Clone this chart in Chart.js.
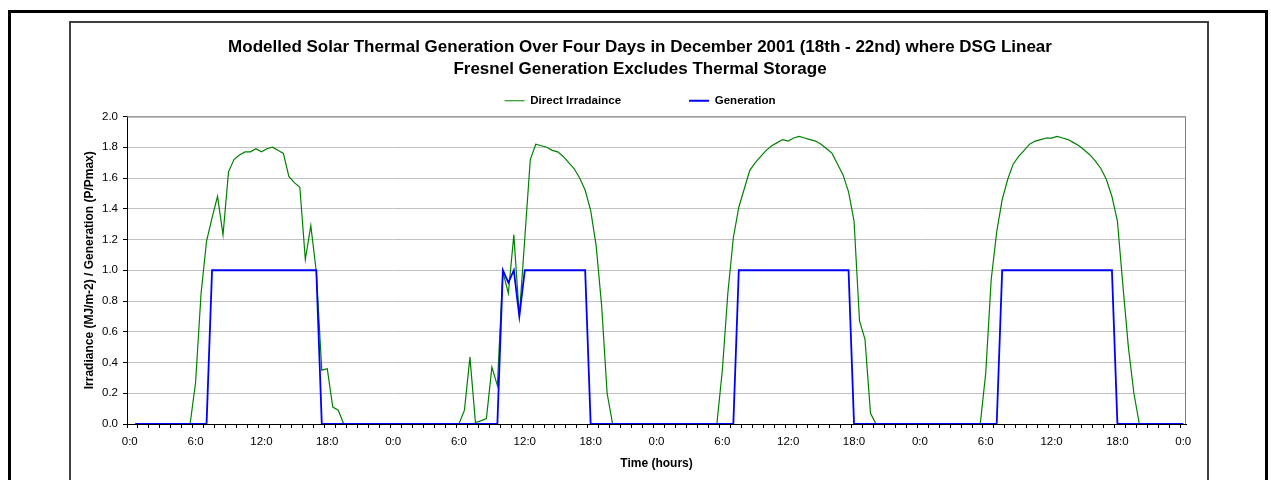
<!DOCTYPE html>
<html lang="en">
<head>
  <meta charset="UTF-8">
  <title>Solar Thermal Generation - December 2001</title>
  <style>
    body {
      margin: 0;
      background: #ffffff;
      font-family: 'Liberation Sans', Arial, sans-serif;
    }
    .sheet {
      position: absolute;
      left: 8px;
      top: 10px;
      width: 1254px;
      height: 520px;
      border: 3px solid #000000;
    }
    .frame {
      position: absolute;
      left: 69px;
      top: 21px;
      width: 1136px;
      height: 520px;
      border: 2px solid #404040;
    }
    #chart {
      position: absolute;
      left: 71px;
      top: 23px;
    }
  </style>
</head>
<body>
  <div class="sheet"></div>
  <div class="frame"></div>
  <canvas id="chart" width="1136" height="457"></canvas>

  <script src="https://cdn.jsdelivr.net/npm/chart.js"></script>
  <script>
    // half-hourly readings, 4 days (rows of 6 hours), last entry is midnight of the 5th day
    const irradiance = [
      null, 0, 0, 0, 0, 0, 0, 0, 0, 0, 0, 0,
      0.27, 0.85, 1.19, 1.34, 1.48, 1.23, 1.64, 1.72, 1.75, 1.77, 1.77, 1.79,
      1.77, 1.79, 1.80, 1.78, 1.76, 1.61, 1.57, 1.54, 1.07, 1.29, 0.99, 0.35,
      0.36, 0.11, 0.09, 0, 0, 0, 0, 0, 0, 0, 0, 0,

      0, 0, 0, 0, 0, 0, 0, 0, 0, 0, 0, 0,
      0, 0.09, 0.435, 0.01, 0.02, 0.035, 0.37, 0.25, 0.99, 0.85, 1.23, 0.70,
      1.21, 1.72, 1.82, 1.81, 1.80, 1.78, 1.77, 1.74, 1.70, 1.66, 1.60, 1.52,
      1.39, 1.16, 0.77, 0.20, 0, 0, 0, 0, 0, 0, 0, 0,

      0, 0, 0, 0, 0, 0, 0, 0, 0, 0, 0, 0,
      0.35, 0.85, 1.21, 1.41, 1.53, 1.65, 1.70, 1.74, 1.78, 1.81, 1.83, 1.85,
      1.84, 1.86, 1.87, 1.86, 1.85, 1.84, 1.82, 1.79, 1.76, 1.69, 1.62, 1.51,
      1.32, 0.67, 0.55, 0.07, 0, 0, 0, 0, 0, 0, 0, 0,

      0, 0, 0, 0, 0, 0, 0, 0, 0, 0, 0, 0,
      0.33, 0.94, 1.25, 1.46, 1.59, 1.69, 1.74, 1.78, 1.82, 1.84, 1.85, 1.86,
      1.86, 1.87, 1.86, 1.85, 1.83, 1.81, 1.78, 1.75, 1.71, 1.66, 1.59, 1.48,
      1.32, 0.90, 0.50, 0.20, 0, 0, 0, 0, 0, 0, 0, 0,
      0
    ];

    const generation = [
      null, 0, 0, 0, 0, 0, 0, 0, 0, 0, 0, 0,
      0, 0, 0, 1, 1, 1, 1, 1, 1, 1, 1, 1,
      1, 1, 1, 1, 1, 1, 1, 1, 1, 1, 1, 0,
      0, 0, 0, 0, 0, 0, 0, 0, 0, 0, 0, 0,

      0, 0, 0, 0, 0, 0, 0, 0, 0, 0, 0, 0,
      0, 0, 0, 0, 0, 0, 0, 0, 1, 0.92, 1, 0.70,
      1, 1, 1, 1, 1, 1, 1, 1, 1, 1, 1, 1,
      0, 0, 0, 0, 0, 0, 0, 0, 0, 0, 0, 0,

      0, 0, 0, 0, 0, 0, 0, 0, 0, 0, 0, 0,
      0, 0, 0, 1, 1, 1, 1, 1, 1, 1, 1, 1,
      1, 1, 1, 1, 1, 1, 1, 1, 1, 1, 1, 1,
      0, 0, 0, 0, 0, 0, 0, 0, 0, 0, 0, 0,

      0, 0, 0, 0, 0, 0, 0, 0, 0, 0, 0, 0,
      0, 0, 0, 1, 1, 1, 1, 1, 1, 1, 1, 1,
      1, 1, 1, 1, 1, 1, 1, 1, 1, 1, 1, 1,
      0, 0, 0, 0, 0, 0, 0, 0, 0, 0, 0, 0,
      0
    ];

    // one label every 6 hours (12 half-hour slots)
    const tickLabels = [
      '0:0', '6:0', '12:0', '18:0',
      '0:0', '6:0', '12:0', '18:0',
      '0:0', '6:0', '12:0', '18:0',
      '0:0', '6:0', '12:0', '18:0',
      '0:0'
    ];

    const slots = irradiance.map((_, i) => i);
    const FONT = "'Liberation Sans', Arial, sans-serif";

    // grey border along the top and right of the plot area
    const plotFrame = {
      id: 'plotFrame',
      beforeDatasetsDraw(chart) {
        const { ctx, chartArea: a } = chart;
        ctx.save();
        ctx.strokeStyle = '#808080';
        ctx.lineWidth = 1;
        ctx.beginPath();
        ctx.moveTo(a.left, a.top + 0.5);
        ctx.lineTo(a.right - 0.5, a.top + 0.5);
        ctx.lineTo(a.right - 0.5, a.bottom);
        ctx.stroke();
        ctx.restore();
      }
    };

    new Chart(document.getElementById('chart'), {
      type: 'line',
      data: {
        labels: slots,
        datasets: [
          {
            label: 'Direct Irradaince',
            data: irradiance,
            borderColor: '#008000',
            backgroundColor: '#008000',
            borderWidth: 1.2,
            order: 1
          },
          {
            label: 'Generation',
            data: generation,
            borderColor: '#0000ff',
            backgroundColor: '#0000ff',
            borderWidth: 1.8,
            order: 0
          }
        ]
      },
      options: {
        responsive: false,
        animation: false,
        events: [],
        elements: {
          point: { radius: 0 },
          line: { tension: 0 }
        },
        // left/right padding keeps title and legend centred on the whole canvas
        layout: { padding: { left: 23, right: 21, top: 0, bottom: 4 } },
        plugins: {
          title: {
            display: true,
            text: [
              'Modelled Solar Thermal Generation Over Four Days in December 2001 (18th - 22nd) where DSG Linear',
              'Fresnel Generation Excludes Thermal Storage'
            ],
            color: '#000000',
            font: { family: FONT, size: 17, weight: 'bold', lineHeight: '22px' },
            // legend items are spaced widely, so tuck the legend box up under the title
            padding: { top: 13, bottom: -53 }
          },
          legend: {
            labels: {
              sort: (a, b) => a.datasetIndex - b.datasetIndex,
              usePointStyle: true,
              pointStyle: 'line',
              pointStyleWidth: 20,
              padding: 68,
              color: '#000000',
              font: { family: FONT, size: 11.5, weight: 'bold' }
            }
          },
          tooltip: { enabled: false }
        },
        scales: {
          x: {
            offset: true,
            afterFit(scale) { scale.height = 52; },
            grid: {
              display: true,
              offset: true,
              drawOnChartArea: false,
              drawTicks: true,
              tickLength: 4,
              color: (c) => (c.index % 2 === 0 ? '#000000' : 'rgba(0,0,0,0)'),
              tickColor: (c) => (c.index % 2 === 0 ? '#000000' : 'rgba(0,0,0,0)')
            },
            border: { display: true, color: '#000000', width: 1 },
            ticks: {
              autoSkip: false,
              maxRotation: 0,
              minRotation: 0,
              padding: 7,
              color: '#000000',
              font: { family: FONT, size: 11.5 },
              callback: (value, index) => (index % 12 === 0 ? tickLabels[index / 12] : '')
            },
            title: {
              display: true,
              text: 'Time (hours)',
              color: '#000000',
              font: { family: FONT, size: 12, weight: 'bold' },
              padding: { top: 0, bottom: 5 }
            }
          },
          y: {
            min: 0,
            max: 2,
            afterFit(scale) { scale.width = 33; },
            grid: {
              color: '#c0c0c0',
              lineWidth: 1,
              tickColor: '#000000',
              tickLength: 4
            },
            border: { display: true, color: '#000000', width: 1 },
            ticks: {
              stepSize: 0.2,
              padding: 5,
              color: '#000000',
              font: { family: FONT, size: 11.5 },
              callback: (v) => v.toFixed(1)
            },
            title: {
              display: true,
              text: 'Irradiance (MJ/m-2) / Generation (P/Pmax)',
              color: '#000000',
              font: { family: FONT, size: 12, weight: 'bold' },
              // sits out in the left padding strip
              padding: { top: -12, bottom: 0 }
            }
          }
        }
      },
      plugins: [plotFrame]
    });
  </script>
</body>
</html>
